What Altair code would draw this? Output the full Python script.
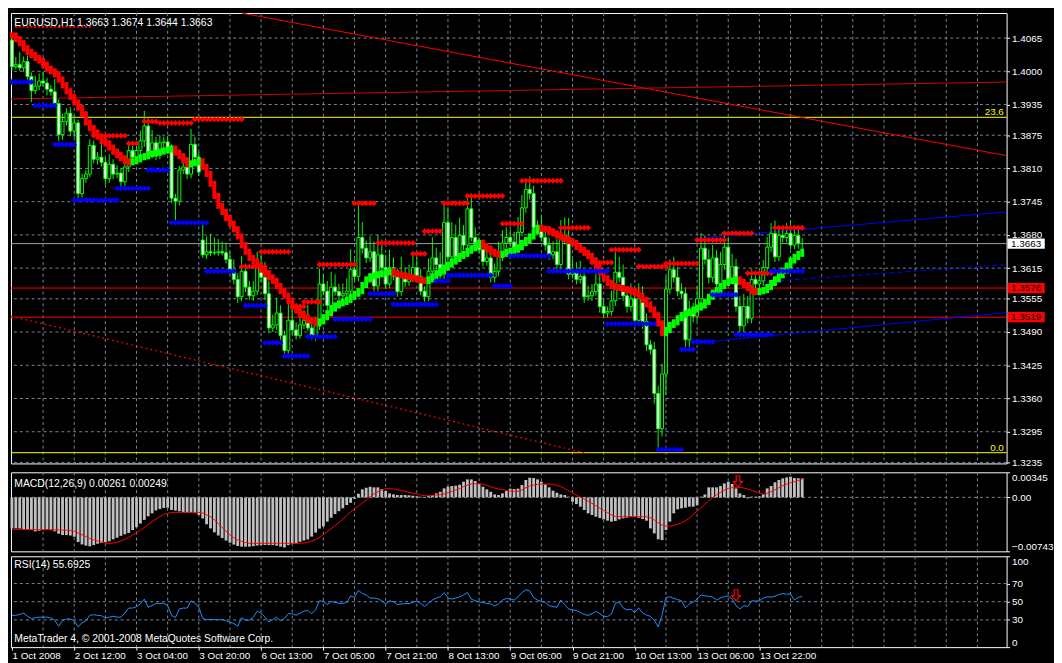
import altair as alt
import pandas as pd

# ---------------- data (prices in pips = 1e-4, MACD in 1e-5) ----------------
N = 204
OPEN_FIRST = 14061
GAP_OPENS = {49: 13670}

CLOSE = [
14009,14013,14007,14019,13990,13962,13971,13981,13977,13965,
13960,13937,13876,13902,13918,13883,13899,13761,13790,13799,
13855,13828,13832,13822,13790,13818,13799,13801,13784,13813,
13845,13832,13845,13864,13893,13838,13860,13836,13860,13862,
13847,13752,13746,13807,13813,13799,13857,13832,13803,13641,
13647,13645,13645,13647,13645,13632,13612,13593,13559,13609,
13578,13561,13570,13622,13597,13565,13498,13504,13527,13483,
13454,13513,13494,13483,13504,13513,13498,13483,13504,13584,
13570,13542,13578,13569,13561,13565,13570,13612,13599,13675,
13654,13635,13647,13580,13641,13616,13584,13616,13599,13569,
13597,13588,13597,13616,13599,13570,13559,13609,13635,13622,
13603,13704,13637,13675,13637,13679,13660,13731,13675,13660,
13651,13628,13635,13597,13609,13637,13664,13675,13666,13656,
13685,13733,13769,13761,13694,13698,13675,13660,13641,13647,
13622,13679,13673,13603,13607,13593,13599,13559,13561,13569,
13584,13540,13527,13530,13551,13607,13597,13561,13540,13555,
13513,13555,13511,13465,13456,13370,13301,13408,13574,13612,
13597,13570,13565,13475,13532,13521,13555,13654,13632,13597,
13635,13584,13622,13656,13593,13618,13540,13502,13540,13517,
13593,13584,13590,13616,13656,13683,13637,13679,13675,13683,
13660,13679,13663,13663]

UP = [
10,15,25,10,12,8,20,15,18,10, 8,25,8,15,10,12,15,6,10,8,
12,10,10,25,10,20,10,15,10,12, 18,10,12,20,30,15,25,12,15,10,
12,10,8,8,25,10,30,15,10,34, 30,35,30,25,20,20,15,20,12,30,
15,12,20,25,20,30,25,20,30,15, 10,35,20,15,25,20,30,20,15,30,
20,20,30,25,15,20,25,40,20,67, 30,15,30,20,40,30,25,35,20,15,
40,20,25,30,20,15,10,25,40,20, 25,42,30,30,25,35,20,25,30,20,
15,20,20,25,15,30,25,20,15,20, 30,25,20,25,15,10,20,15,15,20,
25,30,35,40,25,20,30,15,20,15, 35,20,15,10,20,40,30,25,15,30,
20,30,25,15,10,15,15,20,25,20, 25,20,15,12,20,15,25,30,25,20,
25,15,25,30,20,25,15,20,25,20, 20,15,20,15,20,20,25,15,15,20,
25,15,15,11]

DN = [
8,5,6,8,10,22,6,8,6,12, 8,6,12,10,8,10,12,15,8,8,
6,8,10,8,12,8,10,8,15,8, 10,8,10,8,12,10,8,10,8,10,
8,10,42,8,8,10,8,10,8,6, 8,6,5,6,5,8,8,10,12,8,
10,8,10,8,10,12,10,8,10,8, 10,8,10,8,6,8,6,8,10,10,
8,10,8,8,10,8,10,8,8,10, 10,10,8,10,10,8,10,8,8,10,
8,10,8,10,8,8,10,8,8,10, 10,10,8,10,10,10,10,12,8,10,
8,10,8,10,10,10,8,10,8,10, 8,8,10,12,10,10,8,10,10,8,
8,10,12,10,8,10,8,12,8,10, 8,12,10,8,8,10,10,10,12,10,
12,10,15,12,10,20,46,15,40,10, 10,10,10,20,15,12,10,10,10,12,
10,10,8,10,10,10,10,12,12,10, 10,10,8,10,8,10,10,8,10,10,
8,8,10,19]

MA = [
14070,14063,14055,14045,14038,14032,14026,14021,14013,14005,
14000,13994,13984,13973,13961,13950,13939,13929,13916,13900,
13889,13880,13872,13864,13859,13851,13843,13836,13830,13824,
13822,13824,13828,13832,13834,13838,13839,13841,13843,13845,
13847,13849,13841,13834,13826,13818,13820,13822,13824,13813,
13799,13780,13756,13737,13725,13713,13702,13691,13677,13660,
13647,13635,13628,13620,13612,13605,13597,13590,13580,13570,
13561,13551,13540,13532,13525,13519,13513,13511,13507,13511,
13519,13527,13536,13542,13546,13549,13553,13559,13565,13570,
13582,13593,13599,13601,13603,13605,13607,13609,13605,13603,
13601,13599,13597,13595,13593,13591,13590,13593,13599,13605,
13610,13616,13622,13628,13633,13639,13643,13649,13654,13660,
13664,13658,13652,13647,13643,13641,13643,13647,13649,13651,
13656,13664,13670,13677,13687,13694,13692,13691,13687,13683,
13679,13675,13672,13668,13664,13656,13651,13645,13639,13630,
13618,13607,13595,13586,13580,13578,13576,13574,13572,13570,
13567,13561,13553,13544,13534,13523,13507,13488,13494,13504,
13509,13517,13523,13527,13530,13534,13538,13542,13549,13559,
13567,13572,13580,13586,13590,13591,13593,13588,13582,13576,
13570,13568,13570,13572,13578,13586,13593,13601,13610,13620,
13630,13637,13643,13647]

MACD = [
-427,-427,-430,-438,-443,-450,-468,-460,-448,-442,
-450,-468,-500,-519,-519,-525,-542,-615,-648,-665,
-675,-657,-638,-628,-618,-605,-578,-556,-530,-508,
-490,-450,-410,-360,-310,-260,-220,-180,-160,-146,
-142,-174,-182,-192,-205,-211,-211,-218,-240,-290,
-370,-427,-482,-525,-560,-595,-624,-650,-670,-679,
-679,-679,-672,-663,-657,-657,-657,-657,-665,-678,
-689,-657,-638,-634,-612,-595,-579,-540,-485,-430,
-400,-335,-280,-230,-190,-150,-106,-75,-20,50,
110,133,147,138,138,115,87,55,41,32,
32,32,28,23,14,9,5,18,32,55,
78,124,147,156,161,174,216,248,248,225,
184,147,110,78,41,32,55,87,120,115,
120,170,239,271,266,248,216,179,138,92,
64,41,32,9,-60,-92,-128,-174,-220,-243,
-266,-285,-303,-321,-335,-326,-303,-289,-280,-266,
-266,-280,-298,-321,-427,-496,-578,-588,-450,-335,
-220,-165,-151,-142,-128,-128,-110,10,40,138,
138,138,156,193,216,184,124,55,32,-14,
9,9,14,41,124,156,207,239,262,275,
285,266,262,261]

SIGNAL = [
-440,-440,-441,-442,-443,-444,-445,-445,-446,-446,
-446,-447,-448,-450,-452,-455,-465,-490,-515,-540,
-565,-585,-600,-615,-628,-633,-630,-620,-600,-580,
-550,-520,-485,-450,-415,-375,-335,-300,-265,-235,
-218,-208,-206,-206,-206,-206,-206,-207,-207,-215,
-240,-266,-310,-360,-415,-465,-515,-555,-585,-605,
-622,-632,-633,-633,-633,-633,-633,-633,-633,-633,
-633,-633,-633,-633,-632,-628,-615,-600,-580,-550,
-510,-473,-430,-390,-345,-300,-250,-200,-160,-120,
-74,-37,9,46,78,101,120,120,115,106,
96,83,69,55,46,32,23,23,28,32,
37,46,64,83,101,120,147,170,184,188,
188,179,165,147,129,115,106,96,87,83,
83,101,133,156,170,179,184,184,184,179,
165,147,120,92,64,32,5,-23,-50,-83,
-115,-147,-179,-211,-243,-262,-266,-266,-266,-266,
-266,-266,-266,-266,-280,-312,-349,-381,-395,-395,
-386,-372,-349,-321,-289,-234,-188,-142,-92,-46,
0,37,69,101,124,133,138,138,129,115,
96,78,60,46,55,78,106,133,161,184,
202,216,230,249]

RSI = [
35,35,36,37.5,34,31.5,32.5,33,33,33,
32,29.6,23,29,31,31,29,22.5,26.7,29,
35,35.7,35,34.6,32,33,34,33,33,37.5,
43,43,44.6,47.5,52.9,44,45.7,48.2,48.2,48.2,
45.7,35,32.5,42,43,43,51,48.2,44,31.4,
30.3,30.3,30.3,30.3,30.3,29,27.4,26,23,32.5,
29.6,29.6,33,39.6,37.5,33,27.8,30.3,33,29,
31.4,36.8,36.8,35,37.5,39.6,40.3,36.8,41,51,
50.4,46.8,50.4,49.3,48.2,48.2,49.3,56.4,54.7,62.5,
59,57.5,54,54,53.2,51,47.5,51,50,46.8,
47.5,47.9,47.9,49.3,50.7,48.2,44.6,48.2,51.8,54,
55.4,60,54,52.9,54,55.4,57.5,60,52.9,51,
50,48.9,48.2,47.5,45.3,47.5,51.8,53.6,52.9,51.8,
55.4,60,63.2,61.8,54.7,51.8,50.4,49.3,45.7,44.6,
43.9,51.8,46.8,42,41,40.3,38.2,36,35,36.8,
39.3,36.8,33.9,33.5,36.8,48.2,49.3,43.2,41,41.8,
37.8,43.2,37.5,35.3,33.9,29.6,22.4,35,54.7,55.4,
53.6,52.5,51,43.2,47.5,49.6,52.9,57.5,56.4,56,
55,51.8,54,55.7,56.4,52.9,45.7,42,45.7,44.6,
51,50.7,51,54,55.4,55,56,57.9,59,58.2,
58.6,51.8,54.7,55.7]

# support / resistance levels: (first bar, last bar, level in pips)
RED_DOTS = [(21,29,13874),(30,32,13859),(34,37,13902),(38,46,13899),(47,59,13906),
            (59,65,13618),(64,71,13647),(72,75,13540),(75,79,13549),(79,88,13622),
            (88,93,13742),(94,103,13664),(103,106,13643),(106,110,13687),(111,117,13742),
            (117,126,13756),(126,131,13702),(131,141,13786),(141,148,13694),(149,154,13626),
            (154,161,13651),(161,168,13618),(168,176,13624),(176,183,13670),(183,190,13683),
            (189,195,13605),(196,203,13694)]
SMALL_RED_DOTS = [(1,20,14087)]
BLUE_DOTS = [(0,5,13979),(6,11,13933),(11,16,13857),(16,27,13748),(27,35,13771),
             (35,40,13807),(41,50,13704),(50,57,13609),(60,65,13542),(65,69,13469),
             (70,76,13443),(76,83,13481),(83,92,13515),(92,98,13565),(98,109,13544),
             (109,112,13590),(112,123,13601),(124,128,13580),(128,138,13639),(138,153,13609),
             (153,165,13506),(166,172,13260),(172,175,13456),(175,180,13471),(180,186,13563),
             (186,195,13485),(195,203,13609)]

# trend lines: (bar1, pips1, bar2, pips2, colour)
SOLID_LINES = [(59,14114,255.5,13835,'#FF0000'),
               (-0.25,13946,255.5,13979,'#D00000'),
               (175.5,13673,255.5,13725,'#0000FF'),
               (176,13469,255.5,13528,'#0000FF')]
DOTTED_LINES = [(-0.25,13521,147,13254,'#FF0000')]
DASHED_LINES = [(193,13588,255.5,13622,'#0000FF')]
HLINES = [(13910,'#FFFF00'),(13254,'#FFFF00'),(13576,'#FF0000'),(13519,'#FF0000'),(13663,'#A0A0A0')]
PRICE_BOXES = [(13663,'#FFFFFF','1.3663'),(13576,'#FF0000','1.3576'),(13519,'#FF0000','1.3519')]

PRICE_TICKS = [1.4065,1.4000,1.3935,1.3875,1.3810,1.3745,1.3680,1.3615,1.3555,1.3490,1.3425,1.3360,1.3295,1.3235]
TIME_BARS = [0,16,32,48,64,80,96,112,128,144,160,176,192]
TIME_LABELS = ['1 Oct 2008','2 Oct 12:00','3 Oct 04:00','3 Oct 20:00','6 Oct 13:00','7 Oct 05:00',
               '7 Oct 21:00','8 Oct 13:00','9 Oct 05:00','9 Oct 21:00','10 Oct 13:00','13 Oct 06:00','13 Oct 22:00']
GRID_BARS = list(range(8, 256, 8))

assert len(CLOSE)==N and len(UP)==N and len(DN)==N and len(MA)==N
assert len(MACD)==N and len(SIGNAL)==N and len(RSI)==N

# ---------------- frames ----------------
opens = [OPEN_FIRST] + CLOSE[:-1]
for k, v in GAP_OPENS.items():
    opens[k] = v
crow = []
for i in range(N):
    o, c = opens[i], CLOSE[i]
    top, bot = max(o, c), min(o, c)
    crow.append(dict(i=i, xl=i-0.38, xr=i+0.38, top=top/1e4, bot=bot/1e4,
                     hi=(top+UP[i])/1e4, lo=(bot-DN[i])/1e4,
                     fill='#000000' if c > o else '#FFFFFF'))
cdf = pd.DataFrame(crow)

brow = []
for i in range(N):
    prev = MA[i-1] if i > 0 else MA[0]
    brow.append(dict(xl=i-0.5, xr=i+0.5, lo=(min(prev, MA[i])-6)/1e4, hi=(max(prev, MA[i])+6)/1e4,
                     col='#00FF00' if MA[i] > prev else '#FF0000'))
bdf = pd.DataFrame(brow)

def dots(segs, col):
    return [dict(i=b, p=lvl/1e4, col=col) for (s, e, lvl) in segs for b in range(s, e+1)]
ddf = pd.DataFrame(dots(RED_DOTS, '#FF0000') + dots(BLUE_DOTS, '#0000FF'))
sdf = pd.DataFrame(dots(SMALL_RED_DOTS, '#FF0000'))

def lines(lst):
    return pd.DataFrame([dict(i=a, i2=c, p=b/1e4, p2=d/1e4, col=col) for (a, b, c, d, col) in lst])

hdf = pd.DataFrame([dict(p=p/1e4, col=c) for p, c in HLINES])
boxdf = pd.DataFrame([dict(x1=255.76, x2=265.3, xc=260.5, p=p/1e4, b1=(p-10)/1e4, b2=(p+10)/1e4, col=c, t=t)
                      for p, c, t in PRICE_BOXES])

mdf = pd.DataFrame(dict(i=list(range(N)), xl=[i-0.36 for i in range(N)], xr=[i+0.36 for i in range(N)],
                        m=[v/1e5 for v in MACD], s=[v/1e5 for v in SIGNAL], z=[0.0]*N))
rdf = pd.DataFrame(dict(i=list(range(N)), r=RSI))
gdf = pd.DataFrame(dict(g=GRID_BARS))

# ---------------- styling ----------------
FONT = 'Liberation Sans'
GRID = '#778899'
W = 1008
ARROW = 'M-0.32,-1L0.32,-1L0.32,0.05L0.78,0.05L0,1L-0.78,0.05L-0.32,0.05Z'
XS = alt.Scale(domain=[-0.25, 255.5], nice=False, zero=False)
PS = alt.Scale(domain=[1.3233, 1.4114], nice=False, zero=False)
MS = alt.Scale(domain=[-0.00743, 0.00345], nice=False, zero=False)
RS = alt.Scale(domain=[0, 100], nice=False, zero=False)

def yaxis(values, **kw):
    return alt.Axis(orient='right', values=values, grid=False, domain=False, ticks=True, tickSize=3,
                    tickColor='white', labelColor='white', labelFont=FONT, labelFontSize=10,
                    labelPadding=2, title=None, labelOverlap=False, **kw)

YA_MAIN = yaxis(PRICE_TICKS, format='.4f', labelFlush=False)
YA_MACD = yaxis([-0.00743, 0, 0.00345], labelExpr="datum.value == 0 ? '0.00' : format(datum.value, '.5f')",
                labelFlush=True)
YA_RSI = yaxis([0, 30, 50, 70, 100], format='d', labelFlush=True)

expr = ''.join(f"datum.value == {b} ? '{t}' : " for b, t in zip(TIME_BARS, TIME_LABELS)) + "''"
XA_BOTTOM = alt.Axis(values=TIME_BARS, labelExpr=expr, labelAlign='left', labelFlush=False, grid=False,
                     domain=False, ticks=True, tickSize=3, tickColor='white', labelColor='white',
                     labelFont=FONT, labelFontSize=10, labelPadding=1, title=None, labelOverlap=False)

def X(f, xa):
    return alt.X(f + ':Q', scale=XS, axis=xa)

def vgrid(xa):
    return alt.Chart(gdf).mark_rule(color=GRID, strokeDash=[3, 3], strokeWidth=1).encode(x=X('g', xa))

# ---------------- main panel ----------------
def YP(f):
    return alt.Y(f + ':Q', scale=PS, axis=YA_MAIN)

main_layers = [
    vgrid(None),
    alt.Chart(pd.DataFrame(dict(p=PRICE_TICKS))).mark_rule(color=GRID, strokeDash=[3, 3], strokeWidth=1)
        .encode(y=YP('p')),
    alt.Chart(hdf).mark_rule(strokeWidth=1).encode(y=YP('p'), color=alt.Color('col:N', scale=None)),
    alt.Chart(lines(SOLID_LINES)).mark_rule(strokeWidth=1, clip=True)
        .encode(x=X('i', None), x2='i2:Q', y=YP('p'), y2='p2:Q', color=alt.Color('col:N', scale=None)),
    alt.Chart(lines(DOTTED_LINES)).mark_rule(strokeWidth=1.2, strokeDash=[2, 3])
        .encode(x=X('i', None), x2='i2:Q', y=YP('p'), y2='p2:Q', color=alt.Color('col:N', scale=None)),
    alt.Chart(lines(DASHED_LINES)).mark_rule(strokeWidth=1, strokeDash=[5, 3])
        .encode(x=X('i', None), x2='i2:Q', y=YP('p'), y2='p2:Q', color=alt.Color('col:N', scale=None)),
    alt.Chart(cdf).mark_rule(color='#00FF00', strokeWidth=1).encode(x=X('i', None), y=YP('lo'), y2='hi:Q'),
    alt.Chart(cdf).mark_rect(stroke='#00FF00', strokeWidth=1)
        .encode(x=X('xl', None), x2='xr:Q', y=YP('bot'), y2='top:Q', fill=alt.Fill('fill:N', scale=None)),
    alt.Chart(bdf).mark_rect()
        .encode(x=X('xl', None), x2='xr:Q', y=YP('lo'), y2='hi:Q', color=alt.Color('col:N', scale=None)),
    alt.Chart(ddf).mark_point(shape='diamond', filled=True, size=36, opacity=1)
        .encode(x=X('i', None), y=YP('p'), color=alt.Color('col:N', scale=None)),
    alt.Chart(sdf).mark_point(shape='square', filled=True, size=4, opacity=1)
        .encode(x=X('i', None), y=YP('p'), color=alt.Color('col:N', scale=None)),
    alt.Chart(pd.DataFrame([dict(i=0.6, p=1.4095, t='EURUSD,H1  1.3663 1.3674 1.3644 1.3663')]))
        .mark_text(align='left', baseline='middle', color='white', font=FONT, fontSize=10.5)
        .encode(x=X('i', None), y=YP('p'), text='t:N'),
    alt.Chart(pd.DataFrame([dict(i=254.8, p=1.3921, t='23.6'), dict(i=254.8, p=1.3264, t='0.0')]))
        .mark_text(align='right', baseline='middle', color='#FFFF00', font=FONT, fontSize=10)
        .encode(x=X('i', None), y=YP('p'), text='t:N'),
    alt.Chart(boxdf).mark_rect(clip=False)
        .encode(x=X('x1', None), x2='x2:Q', y=YP('b1'), y2='b2:Q', color=alt.Color('col:N', scale=None)),
    alt.Chart(boxdf).mark_text(clip=False, align='center', baseline='middle', color='black', font=FONT, fontSize=10)
        .encode(x=X('xc', None), y=YP('p'), text='t:N'),
]
main = alt.layer(*main_layers).properties(width=W, height=456)

# ---------------- MACD panel ----------------
def YM(f):
    return alt.Y(f + ':Q', scale=MS, axis=YA_MACD)

macd_layers = [
    vgrid(None),
    alt.Chart(pd.DataFrame(dict(v=[0.0]))).mark_rule(color=GRID, strokeDash=[3, 3], strokeWidth=1)
        .encode(y=YM('v')),
    alt.Chart(mdf).mark_rect(color='#C0C0C0').encode(x=X('xl', None), x2='xr:Q', y=YM('m'), y2='z:Q'),
    alt.Chart(mdf).mark_line(color='#FF0000', strokeWidth=1).encode(x=X('i', None), y=YM('s')),
    alt.Chart(pd.DataFrame([dict(i=0.6, v=0.0018, t='MACD(12,26,9) 0.00261 0.00249')]))
        .mark_text(align='left', baseline='middle', color='white', font=FONT, fontSize=10.5)
        .encode(x=X('i', None), y=YM('v'), text='t:N'),
    alt.Chart(pd.DataFrame([dict(i=186.5, v=0.0022)]))
        .mark_point(shape=ARROW, size=130, filled=False, color='#FF0000', strokeWidth=1.2, opacity=1)
        .encode(x=X('i', None), y=YM('v')),
]
macd = alt.layer(*macd_layers).properties(width=W, height=80)

# ---------------- RSI panel ----------------
def YR(f):
    return alt.Y(f + ':Q', scale=RS, axis=YA_RSI)

rsi_layers = [
    vgrid(XA_BOTTOM),
    alt.Chart(pd.DataFrame(dict(v=[30, 50, 70]))).mark_rule(color=GRID, strokeDash=[3, 3], strokeWidth=1)
        .encode(y=YR('v')),
    alt.Chart(rdf).mark_line(color='#1E90FF', strokeWidth=1).encode(x=X('i', XA_BOTTOM), y=YR('r')),
    alt.Chart(pd.DataFrame([dict(i=0.6, v=90.3, t='RSI(14) 55.6925'),
                            dict(i=0.6, v=8.6, t='MetaTrader 4, \u00A9 2001-2008 MetaQuotes Software Corp.')]))
        .mark_text(align='left', baseline='middle', color='white', font=FONT, fontSize=10.5)
        .encode(x=X('i', XA_BOTTOM), y=YR('v'), text='t:N'),
    alt.Chart(pd.DataFrame([dict(i=186, v=57)]))
        .mark_point(shape=ARROW, size=130, filled=False, color='#FF0000', strokeWidth=1.2, opacity=1)
        .encode(x=X('i', XA_BOTTOM), y=YR('v')),
]
rsi = alt.layer(*rsi_layers).properties(width=W, height=92)

chart = (alt.vconcat(main, macd, rsi, spacing=3)
         .properties(padding=0)
         .configure(background='black')
         .configure_view(stroke='white', strokeWidth=1))

chart.save("out.html", embed_options={"renderer": "svg", "actions": False})
